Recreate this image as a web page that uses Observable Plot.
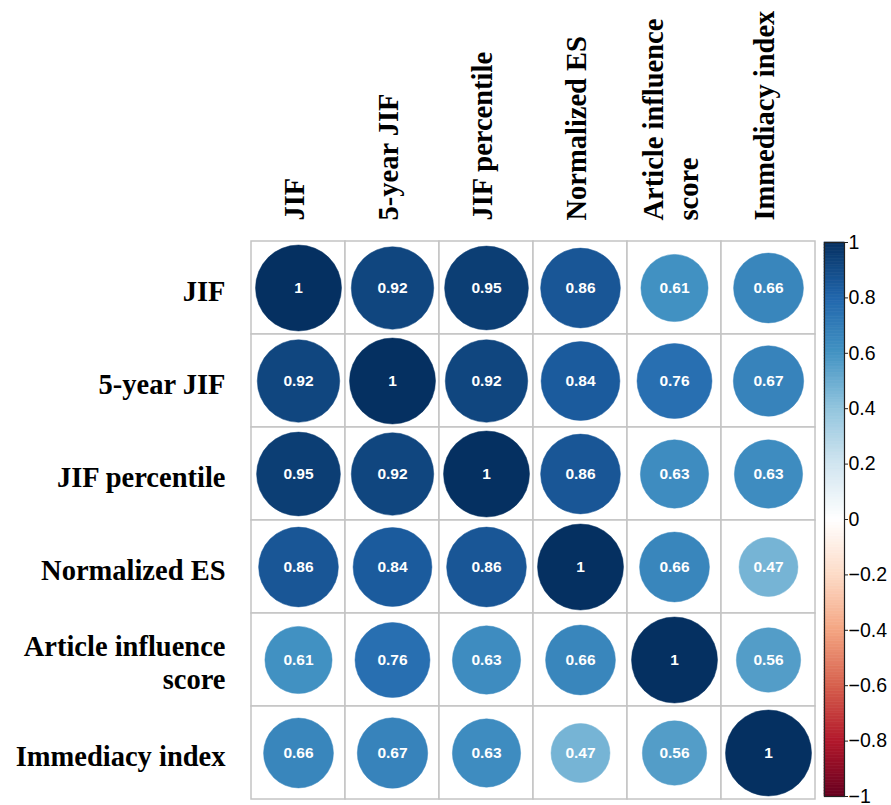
<!DOCTYPE html>
<html>
<head>
<meta charset="utf-8">
<script src="https://cdn.jsdelivr.net/npm/d3@7"></script>
<script src="https://cdn.jsdelivr.net/npm/@observablehq/plot@0.6"></script>
<style>
  body { margin: 0; background: white; }
  #wrap { position: relative; width: 891px; height: 805px; }
  #wrap svg { position: absolute; top: 0; overflow: visible; }
</style>
</head>
<body>
<div id="wrap"></div>
<script>
// Variables (rows and columns share the same order)
const categories = ["JIF", "5-year JIF", "JIF percentile", "Normalized ES", "Article influence\nscore", "Immediacy index"];

// Correlation matrix, one array per row
const rowJIF        = [1.00, 0.92, 0.95, 0.86, 0.61, 0.66];
const row5yJIF      = [0.92, 1.00, 0.92, 0.84, 0.76, 0.67];
const rowPercentile = [0.95, 0.92, 1.00, 0.86, 0.63, 0.63];
const rowNormES     = [0.86, 0.84, 0.86, 1.00, 0.66, 0.47];
const rowAIS        = [0.61, 0.76, 0.63, 0.66, 1.00, 0.56];
const rowImmediacy  = [0.66, 0.67, 0.63, 0.47, 0.56, 1.00];
const matrix = [rowJIF, row5yJIF, rowPercentile, rowNormES, rowAIS, rowImmediacy];

// Colour bar ticks
const colorbarTicks = [-1, -0.8, -0.6, -0.4, -0.2, 0, 0.2, 0.4, 0.6, 0.8, 1];
const colorbarLabels = ["\u22121", "\u22120.8", "\u22120.6", "\u22120.4", "\u22120.2", "0", "0.2", "0.4", "0.6", "0.8", "1"];

// corrplot RdBu palette stops
const colorStops = [-1, -0.8, -0.6, -0.4, -0.2, 0, 0.2, 0.4, 0.6, 0.8, 1];
const corrColors = ["#67001F", "#B2182B", "#D6604D", "#F4A582", "#FDDBC7", "#FFFFFF", "#D1E5F0", "#92C5DE", "#4393C3", "#2166AC", "#053061"];

const cells = [];
matrix.forEach((row, i) => row.forEach((v, j) => cells.push({row: categories[i], col: categories[j], value: v})));

const fmt = v => v === 1 ? "1" : v.toFixed(2);
const colorScale = {type: "linear", domain: colorStops, range: corrColors, interpolate: "rgb"};
const serif = "'Liberation Serif', 'Times New Roman', Times, serif";
const sans = "'Liberation Sans', Arial, Helvetica, sans-serif";

const main = Plot.plot({
  width: 891,
  height: 805,
  marginLeft: 249,
  marginRight: 75,
  marginTop: 241,
  marginBottom: 6,
  style: {background: "transparent"},
  x: {domain: categories, axis: null, padding: 0},
  y: {domain: categories, axis: null, padding: 0},
  color: colorScale,
  r: {type: "sqrt", domain: [0, 1], range: [0, 43]},
  marks: [
    Plot.cell(cells, {x: "col", y: "row", fill: "white", stroke: "#c4c4c4", strokeWidth: 1.5, inset: 0}),
    Plot.dot(cells, {x: "col", y: "row", r: "value", fill: "value", stroke: "value", strokeWidth: 0.5}),
    Plot.text(cells, {x: "col", y: "row", text: d => fmt(d.value), fill: "white", fontSize: 15.5, fontWeight: "bold", fontFamily: sans}),
    Plot.text(categories, {y: d => d, text: d => d, frameAnchor: "left", textAnchor: "end", lineAnchor: "middle", dx: -24, dy: 2, fontSize: 28.5, fontWeight: "bold", fontFamily: serif, fill: "black", lineHeight: 1.15}),
    Plot.text(categories, {x: d => d, text: d => d, frameAnchor: "top", textAnchor: "start", lineAnchor: "middle", rotate: -90, dy: -21, dx: -5, fontSize: 28.5, fontWeight: "bold", fontFamily: serif, fill: "black", lineHeight: 1.2})
  ]
});

const steps = d3.range(-1, 1, 0.01).map(v => ({y1: v, y2: v + 0.01, mid: v + 0.005}));

const bar = Plot.plot({
  width: 67,
  height: 805,
  marginLeft: 0,
  marginRight: 47,
  marginTop: 242,
  marginBottom: 9,
  style: {background: "transparent"},
  x: {domain: [0, 1], axis: null},
  y: {domain: [-1, 1], axis: null},
  color: colorScale,
  marks: [
    Plot.rect(steps, {x1: 0, x2: 1, y1: "y1", y2: "y2", fill: "mid", stroke: "mid", strokeWidth: 0.6}),
    Plot.frame({stroke: "#222", strokeWidth: 1.2}),
    Plot.axisY({anchor: "right", ticks: colorbarTicks, tickFormat: d => colorbarLabels[colorbarTicks.indexOf(d)], tickSize: 3, tickPadding: 1, fontSize: 19.5, fontFamily: sans, color: "black", stroke: "#222"})
  ]
});

main.style.left = "0px";
bar.style.left = "824px";
document.getElementById("wrap").append(main, bar);
</script>
</body>
</html>
